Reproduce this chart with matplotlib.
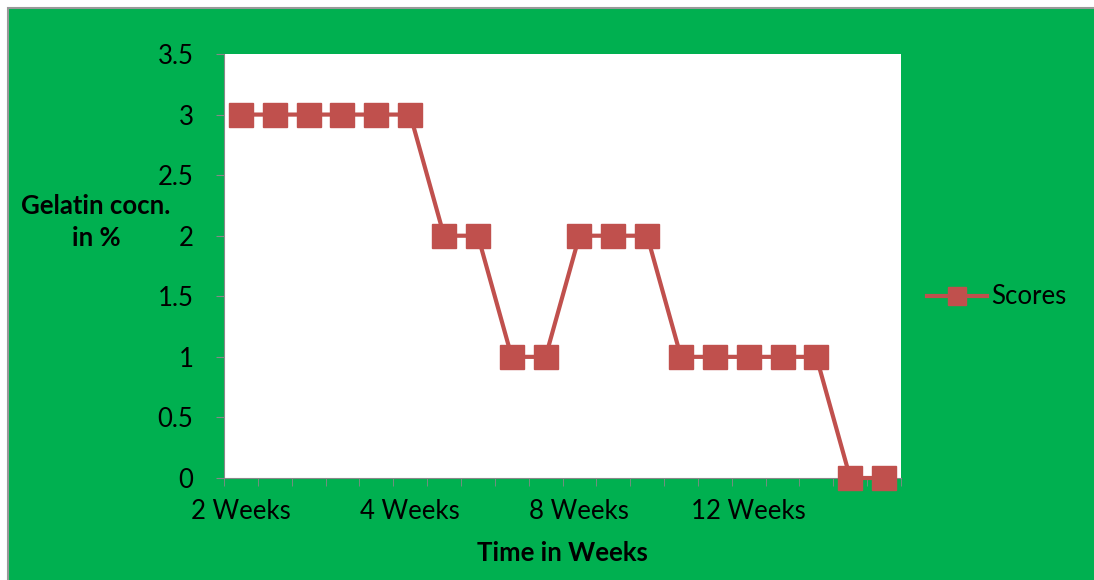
import matplotlib.pyplot as plt
from matplotlib.patches import Rectangle

weeks = list(range(20))
scores = [3, 3, 3, 3, 3, 3, 2, 2, 1, 1, 2, 2, 2, 1, 1, 1, 1, 1, 0, 0]
tick_pos = [0, 5, 10, 15]
tick_labels = ['2 Weeks', '4 Weeks', '8 Weeks', '12 Weeks']
yticks = [0, 0.5, 1, 1.5, 2, 2.5, 3, 3.5]

plt.rcParams['font.family'] = ['Lato', 'DejaVu Sans']

W, H = 1094, 580
fig = plt.figure(figsize=(W / 100, H / 100), dpi=100)
fig.patch.set_facecolor('white')

# green chart area, gray frame only shows on top/left
fig.patches.append(Rectangle((8 / W, -0.1), 1.2, 1.1 - 8 / H, transform=fig.transFigure,
                             facecolor='#00B050', edgecolor='#999999', linewidth=1.5, zorder=-10))

ax = fig.add_axes([224 / W, 1 - 478 / H, (901 - 224) / W, (478 - 54) / H])
ax.set_facecolor('white')

red = '#C0504D'
ax.plot(weeks, scores, '-s', color=red, linewidth=3, markersize=17,
        label='Scores', clip_on=False, zorder=5)

ax.set_xlim(-0.5, 19.5)
ax.set_ylim(0, 3.5)
ax.set_yticks(yticks)
ax.set_yticklabels(['0', '0.5', '1', '1.5', '2', '2.5', '3', '3.5'], fontsize=18.5)
ax.set_xticks(tick_pos)
ax.set_xticklabels(tick_labels, fontsize=18.5)
ax.set_xticks([i - 0.5 for i in range(21)], minor=True)
ax.tick_params(axis='x', which='major', length=0, pad=15)
ax.tick_params(axis='x', which='minor', length=6, color='#888888')
ax.tick_params(axis='y', length=6, color='#888888', pad=16)

for s in ['top', 'right']:
    ax.spines[s].set_visible(False)
for s in ['left', 'bottom']:
    ax.spines[s].set_color('#888888')

fig.text(96 / W, 1 - 222 / H, 'Gelatin cocn.\nin %', ha='center', va='center',
         fontsize=18.5, fontweight='bold', linespacing=1.35)
fig.text(562 / W, 1 - 553 / H, 'Time in Weeks', ha='center', va='center',
         fontsize=18.5, fontweight='bold')

ax.legend(loc='center left', bbox_to_anchor=(919 / W, 1 - 297 / H),
          bbox_transform=fig.transFigure, frameon=False, fontsize=18.5,
          handlelength=2.35, handletextpad=0.15, markerscale=0.75,
          borderpad=0.3, borderaxespad=0)

plt.savefig('out.png', dpi=100)
